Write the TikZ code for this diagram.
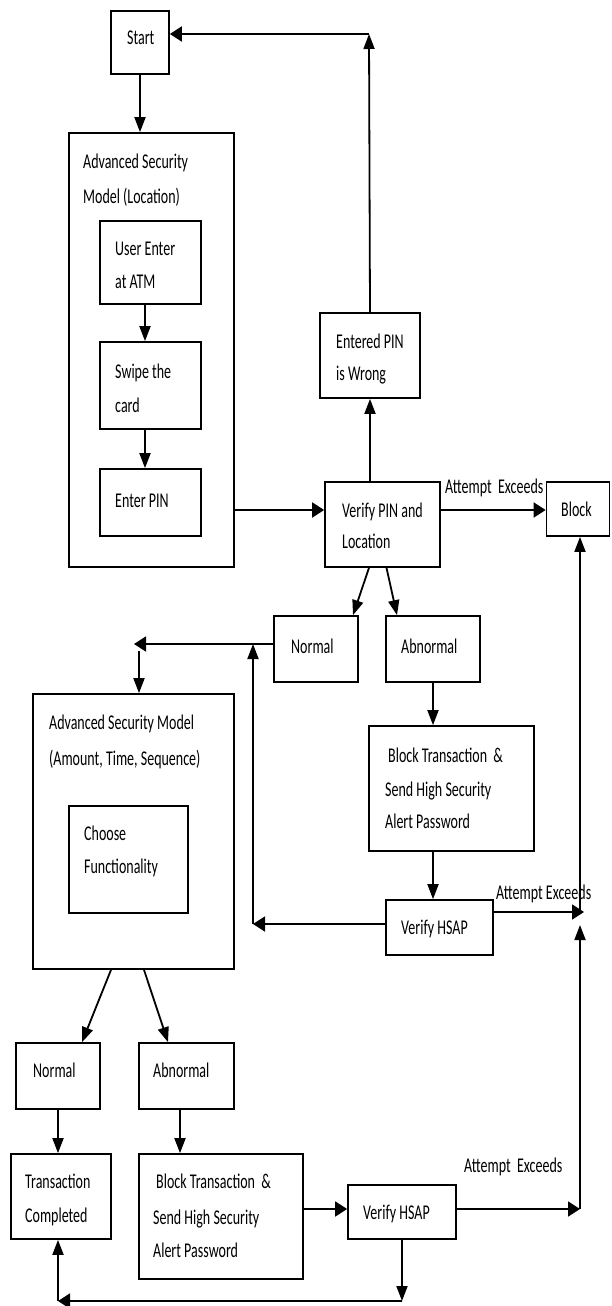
\documentclass[tikz,border=0pt]{standalone}
\usepackage{graphicx}
\usepackage{fontspec}
\setmainfont{Carlito}
\usetikzlibrary{arrows.meta}
\newcommand{\tx}[1]{\scalebox{1}[1.5]{#1}}
\begin{document}
\begin{tikzpicture}[x=1pt,y=-1pt,
  box/.style={draw, line width=1.7pt, rectangle, inner sep=0pt},
  lbl/.style={anchor=base west, inner sep=0pt, font=\fontsize{14}{16}\selectfont},
  conn/.style={line width=1.8pt},
  arrv/.style={conn, -{Triangle[length=15pt,width=11pt]}},
  arrh/.style={conn, -{Triangle[length=12pt,width=15pt]}}]
\useasboundingbox (0,0) rectangle (611,1306);
\fill[white] (0,0) rectangle (611,1306);
% boxes
\node[box, minimum width=58pt, minimum height=63pt] (start) at (140,42.5) {};
\node[box, minimum width=165pt, minimum height=434pt] (asm1) at (151.5,350) {};
\node[box, minimum width=101pt, minimum height=83pt] (user) at (150.5,262.5) {};
\node[box, minimum width=101pt, minimum height=87pt] (swipe) at (150.5,385.5) {};
\node[box, minimum width=101pt, minimum height=67pt] (enterpin) at (150.5,502.5) {};
\node[box, minimum width=115pt, minimum height=85pt] (verify) at (382.5,524.5) {};
\node[box, minimum width=100pt, minimum height=85pt] (wrong) at (370,355.5) {};
\node[box, minimum width=63pt, minimum height=54pt] (block) at (578,509) {};
\node[box, minimum width=84pt, minimum height=66pt] (normal1) at (316,649) {};
\node[box, minimum width=94pt, minimum height=66pt] (abnormal1) at (433,649) {};
\node[box, minimum width=201pt, minimum height=275pt] (asm2) at (133.5,831.5) {};
\node[box, minimum width=119pt, minimum height=107pt] (choose) at (128.5,859.5) {};
\node[box, minimum width=165pt, minimum height=125pt] (bt1) at (451.5,788.5) {};
\node[box, minimum width=107pt, minimum height=55pt] (hsap1) at (439.5,927.5) {};
\node[box, minimum width=84pt, minimum height=66pt] (normal2) at (58,1076) {};
\node[box, minimum width=95pt, minimum height=66pt] (abnormal2) at (186.5,1076) {};
\node[box, minimum width=100pt, minimum height=85pt] (tc) at (61,1196.5) {};
\node[box, minimum width=164pt, minimum height=125pt] (bt2) at (221,1216.5) {};
\node[box, minimum width=108pt, minimum height=54pt] (hsap2) at (402,1212) {};
% texts
\node[lbl] (tstart) at (127,45) {\tx{Start}};
\node[lbl] (tasm1a) at (83,168) {\tx{Advanced Security}};
\node[lbl] (tasm1b) at (83,203) {\tx{Model (Location)}};
\node[lbl] (tusera) at (115,255) {\tx{User Enter}};
\node[lbl] (tuserb) at (115,288) {\tx{at ATM}};
\node[lbl] (tswipea) at (115,378) {\tx{Swipe the}};
\node[lbl] (tswipeb) at (115,412) {\tx{card}};
\node[lbl] (tenter) at (115,507) {\tx{Enter PIN}};
\node[lbl] (twronga) at (336,348) {\tx{Entered PIN}};
\node[lbl] (twrongb) at (336,380) {\tx{is Wrong}};
\node[lbl] (tverifya) at (342,517) {\tx{Verify PIN and}};
\node[lbl] (tverifyb) at (342,548) {\tx{Location}};
\node[lbl] (tatt1) at (445,493) {\tx{Attempt~~Exceeds}};
\node[lbl] (tblock) at (561,516) {\tx{Block}};
\node[lbl] (tnorm1) at (291,653) {\tx{Normal}};
\node[lbl] (tabn1) at (401,653) {\tx{Abnormal}};
\node[lbl] (tasm2a) at (49,729) {\tx{Advanced Security Model}};
\node[lbl] (tasm2b) at (49,765) {\tx{(Amount, Time, Sequence)}};
\node[lbl] (tchoa) at (84,840) {\tx{Choose}};
\node[lbl] (tchob) at (84,873) {\tx{Functionality}};
\node[lbl] (tbt1a) at (388,762) {\tx{Block Transaction~~\&}};
\node[lbl] (tbt1b) at (385,796) {\tx{Send High Security}};
\node[lbl] (tbt1c) at (385,828) {\tx{Alert Password}};
\node[lbl] (tatt2) at (496,899) {\tx{Attempt Exceeds}};
\node[lbl] (thsap1) at (401,934) {\tx{Verify HSAP}};
\node[lbl] (tnorm2) at (33,1077) {\tx{Normal}};
\node[lbl] (tabn2) at (153,1077) {\tx{Abnormal}};
\node[lbl] (ttca) at (25,1188) {\tx{Transaction}};
\node[lbl] (ttcb) at (25,1222) {\tx{Completed}};
\node[lbl] (tbt2a) at (156,1188) {\tx{Block Transaction~~\&}};
\node[lbl] (tbt2b) at (153,1224) {\tx{Send High Security}};
\node[lbl] (tbt2c) at (153,1257) {\tx{Alert Password}};
\node[lbl] (thsap2) at (363,1219) {\tx{Verify HSAP}};
\node[lbl] (tatt3) at (464,1172) {\tx{Attempt~~Exceeds}};
% helper coordinates
\coordinate (c1) at (369,34);
\coordinate (xa) at (145,0);
\coordinate (ya) at (0,510);
\coordinate (r1) at (580,912);
\coordinate (r1t) at (584,912);
\coordinate (n1l) at (134,644);
\coordinate (n1d) at (139,651);
\coordinate (h1l) at (253,924);
\coordinate (xb) at (180,0);
\coordinate (yb) at (0,1209);
\coordinate (r2) at (580,1209);
\coordinate (r2u) at (580,925);
\coordinate (bl) at (58,1301);
\coordinate (br) at (402,1301);
% connectors
\draw[arrv] (start.south) -- (start.south |- asm1.north);
\draw[arrv] (wrong.north) -- (c1);
\draw[arrh] (c1) -- (c1 -| start.east);
\draw[arrv] (user.south -| xa) -- (swipe.north -| xa);
\draw[arrv] (swipe.south -| xa) -- (enterpin.north -| xa);
\draw[arrh] (asm1.east |- ya) -- (verify.west |- ya);
\draw[arrv] (verify.north -| wrong.north) -- (wrong.south);
\draw[arrh] (verify.east |- ya) -- (block.west |- ya);
\draw[arrv] (r1) -- (block.south -| r1);
\draw[arrv] ([xshift=-13.5pt]verify.south) -- ([xshift=37pt]normal1.north);
\draw[arrv] ([xshift=4pt]verify.south) -- ([xshift=-36pt]abnormal1.north);
\draw[arrh] (normal1.west |- n1l) -- (n1l);
\draw[arrv] (n1d) -- (n1d |- asm2.north);
\draw[arrv] (abnormal1.south) -- (abnormal1.south |- bt1.north);
\draw[arrv] (bt1.south -| abnormal1.south) -- (hsap1.north -| abnormal1.south);
\draw[arrh] (hsap1.west |- h1l) -- (h1l);
\draw[arrv] (h1l) -- (h1l |- n1l);
\draw[arrh] (hsap1.east |- r1t) -- (r1t);
\draw[arrv] ([xshift=-22.5pt]asm2.south) -- ([xshift=24pt]normal2.north);
\draw[arrv] ([xshift=10.5pt]asm2.south) -- ([xshift=-18.5pt]abnormal2.north);
\draw[arrv] (normal2.south) -- (normal2.south |- tc.north);
\draw[arrv] (abnormal2.south -| xb) -- (bt2.north -| xb);
\draw[arrh] (bt2.east |- yb) -- (hsap2.west |- yb);
\draw[arrh] (hsap2.east |- yb) -- (r2);
\draw[arrv] (r2) -- (r2u);
\draw[arrv] (hsap2.south) -- (br);
\draw[arrh] (br) -- (bl);
\draw[arrv] (bl) -- (bl |- tc.south);
\end{tikzpicture}
\end{document}
